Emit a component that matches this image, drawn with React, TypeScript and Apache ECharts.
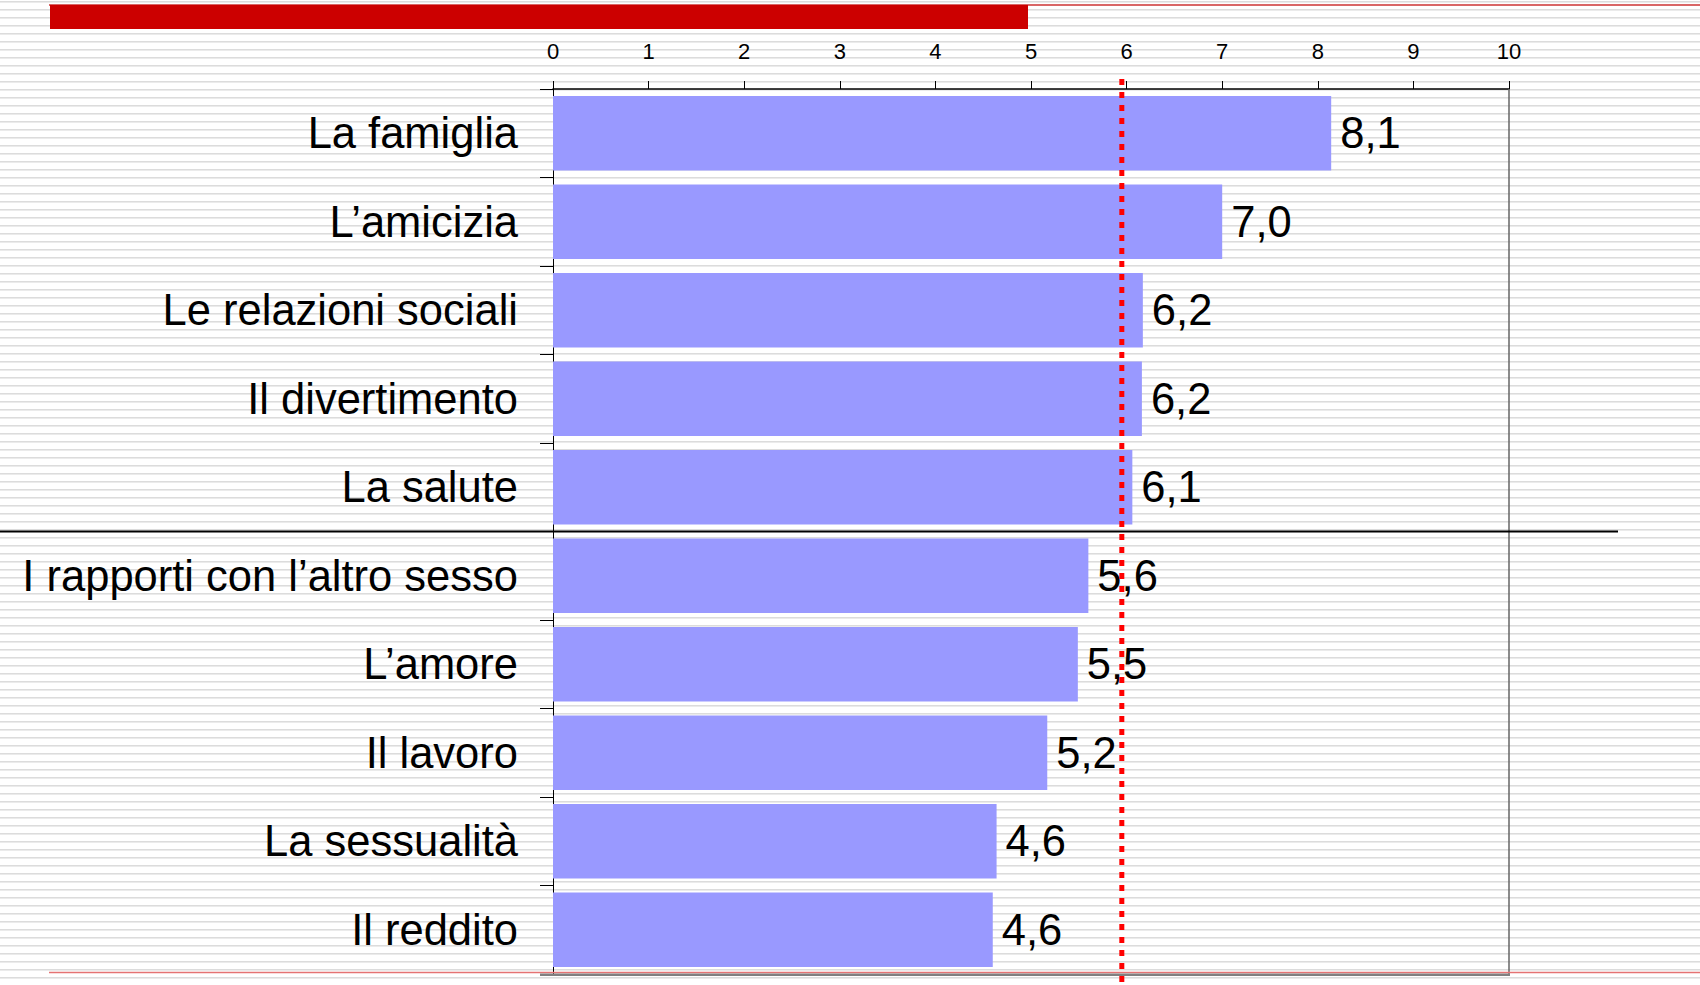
import React, { useEffect, useRef } from "react";
import * as echarts from "echarts";

const categories = [
  "La famiglia",
  "L’amicizia",
  "Le relazioni sociali",
  "Il divertimento",
  "La salute",
  "I rapporti con l’altro sesso",
  "L’amore",
  "Il lavoro",
  "La sessualità",
  "Il reddito",
];
const values = [8.14, 7.0, 6.17, 6.16, 6.06, 5.6, 5.49, 5.17, 4.64, 4.6];
const axisMin = 0;
const axisMax = 10;
const axisInterval = 1;
const referenceValue = 5.95;
const separatorAfterIndex = 4;

const FONT = "'Liberation Sans', Arial, Helvetica, sans-serif";

export default function App() {
  const ref = useRef<HTMLDivElement | null>(null);

  useEffect(() => {
    if (!ref.current) return;
    const chart = echarts.init(ref.current, undefined, { renderer: "svg" });
    const option: any = {
      animation: false,
      backgroundColor: "transparent",
      textStyle: { fontFamily: FONT },
      grid: { left: 553, right: 191, top: 89, bottom: 11, containLabel: false },
      xAxis: {
        type: "value",
        position: "top",
        min: axisMin,
        max: axisMax,
        interval: axisInterval,
        axisLine: { show: true, lineStyle: { color: "#000", width: 1.5 } },
        axisTick: { show: true, length: 8, lineStyle: { color: "#000", width: 1 } },
        axisLabel: { fontSize: 22, color: "#000", margin: 27, fontFamily: FONT },
        splitLine: { show: false },
      },
      yAxis: {
        type: "category",
        data: categories,
        inverse: true,
        axisLine: { show: true, lineStyle: { color: "#000", width: 1 } },
        axisTick: { show: true, length: 13, lineStyle: { color: "#000", width: 1 } },
        axisLabel: {
          fontSize: 43.5,
          color: "#000",
          margin: 35,
          fontFamily: FONT,
          padding: [2, 0, 0, 0],
        },
        splitLine: { show: false },
      },
      series: [
        {
          type: "bar",
          data: values,
          barCategoryGap: "16%",
          itemStyle: { color: "#9999ff" },
          label: {
            show: true,
            position: "right",
            distance: 9,
            fontSize: 43.5,
            color: "#000",
            fontFamily: FONT,
            padding: [2, 0, 0, 0],
            formatter: (p: any) =>
              (Math.round(p.value * 10) / 10).toFixed(1).replace(".", ","),
          },
          markLine: {
            silent: true,
            symbol: "none",
            label: { show: false },
            lineStyle: { color: "#666", width: 1.5, type: "solid" },
            data: [{ xAxis: axisMax }],
          },
        },
      ],
    };
    chart.setOption(option);

    const xRef = chart.convertToPixel({ xAxisIndex: 0 }, referenceValue) as number;
    const yA = chart.convertToPixel({ yAxisIndex: 0 }, categories[separatorAfterIndex]) as number;
    const yB = chart.convertToPixel({ yAxisIndex: 0 }, categories[separatorAfterIndex + 1]) as number;
    const ySep = (yA + yB) / 2;
    const x0 = chart.convertToPixel({ xAxisIndex: 0 }, axisMin) as number;
    const x10 = chart.convertToPixel({ xAxisIndex: 0 }, axisMax) as number;

    chart.setOption({
      graphic: [
        {
          type: "line",
          z: 100,
          shape: { x1: 49, y1: 5, x2: 1700, y2: 5 },
          style: { stroke: "#cc3333", lineWidth: 1.5 },
        },
        {
          type: "rect",
          z: 101,
          shape: { x: 50, y: 5, width: 978, height: 24 },
          style: { fill: "#cc0000" },
        },
        {
          type: "line",
          z: 100,
          shape: { x1: 49, y1: 972.5, x2: 1700, y2: 972.5 },
          style: { stroke: "#e57373", lineWidth: 1.6 },
        },
        {
          type: "line",
          z: 100,
          shape: { x1: x0 - 13, y1: 974.8, x2: x10 + 1, y2: 974.8 },
          style: { stroke: "#808080", lineWidth: 2.5 },
        },
        {
          type: "line",
          z: 100,
          shape: { x1: 0, y1: ySep, x2: 1618, y2: ySep },
          style: { stroke: "#000", lineWidth: 2 },
        },
        {
          type: "line",
          z: 102,
          shape: { x1: xRef, y1: 79, x2: xRef, y2: 985 },
          style: { stroke: "#ff0000", lineWidth: 5, lineDash: [6, 7] },
        },
      ],
    });

    return () => chart.dispose();
  }, []);

  return (
    <div
      style={{
        position: "fixed",
        left: 0,
        top: 0,
        width: 1700,
        height: 985,
        background:
          "repeating-linear-gradient(to bottom, #ffffff 0px, #ffffff 1px, #dcdcdc 1px, #dcdcdc 2px, #ebebeb 2px, #ebebeb 3px, #ffffff 3px, #ffffff 8px)",
      }}
    >
      <div ref={ref} style={{ width: 1700, height: 985 }} />
    </div>
  );
}
